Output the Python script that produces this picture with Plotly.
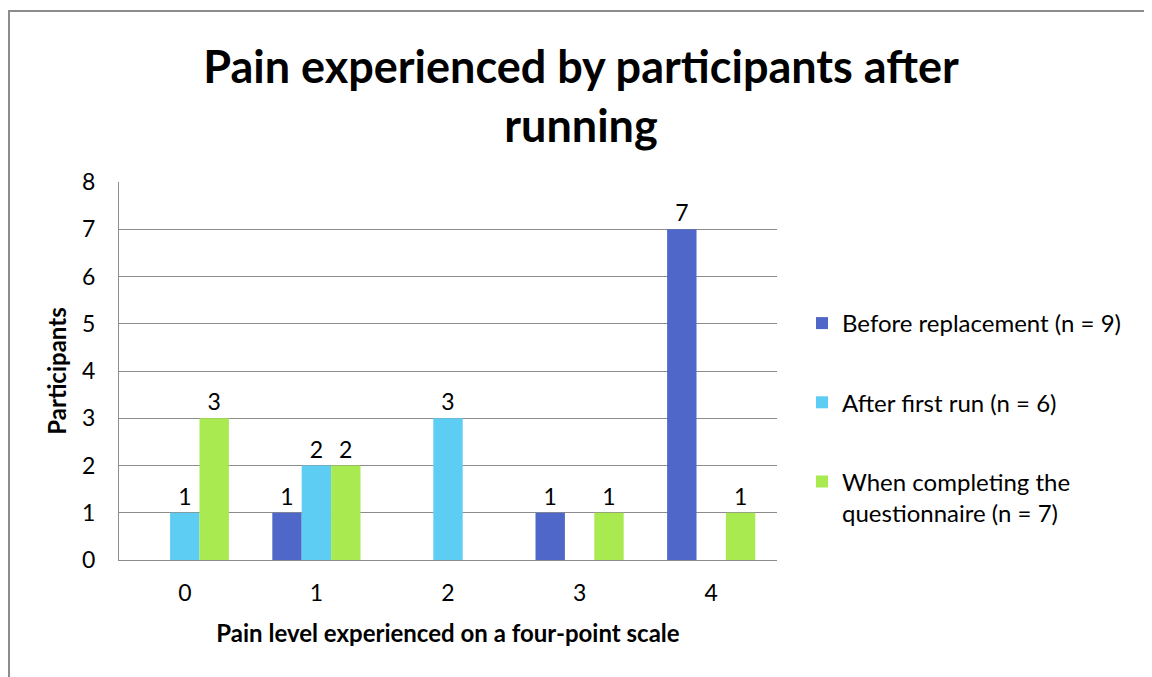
import plotly.graph_objects as go

categories = ["0", "1", "2", "3", "4"]
series_names = ["Before replacement (n = 9)", "After first run (n = 6)",
                "When completing the<br>questionnaire (n = 7)"]
before_replacement = [0, 1, 0, 1, 7]
after_first_run = [1, 2, 3, 0, 0]
when_completing = [3, 2, 0, 1, 1]
colors = ["#4F67C8", "#5ECDF3", "#A8EA50"]

FONT = "Lato"
fig = go.Figure()
for i, (name, vals) in enumerate(zip(series_names, [before_replacement, after_first_run, when_completing])):
    fig.add_trace(go.Bar(
        x=categories, y=vals, name=name, marker=dict(color=colors[i], line=dict(width=0)),
        text=[str(v) if v else "" for v in vals], textposition="outside",
        textfont=dict(size=23, color="black", family=FONT), cliponaxis=False,
        legendgroup=f"g{i}",
    ))

# the page body adds an 8px margin; the figure is sized to compensate
W, H = 1144, 669
l, r, t, b = 111, 375, 174, 117
pw, ph = W - l - r, H - t - b

fig.update_layout(
    width=W, height=H,
    margin=dict(l=l, r=r, t=t, b=b),
    paper_bgcolor="white", plot_bgcolor="white",
    font=dict(family=FONT, color="black"),
    barmode="group", bargap=0.33, bargroupgap=0,
    title=dict(text="<b>Pain experienced by participants after<br>running</b>",
               x=573 / W, xanchor="center", xref="container",
               y=1 - 75 / H, yanchor="top", yref="container",
               font=dict(size=45, family=FONT, color="black")),
    legend=dict(x=794 / W, xref="container", xanchor="left",
                y=1 - 293 / H, yref="container", yanchor="top",
                font=dict(size=24, family=FONT), tracegroupgap=45,
                valign="top", bgcolor="rgba(0,0,0,0)", itemwidth=30),
    showlegend=True,
)
fig.update_xaxes(
    showgrid=False, showline=True, linecolor="#8c8c8c", linewidth=1,
    ticks="", ticklabelstandoff=12,
    tickfont=dict(size=23, family=FONT),
    title=dict(text="<b>Pain level experienced on a four-point scale</b>",
               font=dict(size=24, family=FONT), standoff=20),
)
fig.update_yaxes(
    range=[0, 8], dtick=1, showgrid=True, gridcolor="#8c8c8c", gridwidth=1,
    showline=True, linecolor="#8c8c8c", linewidth=1, zeroline=False,
    ticks="", ticklabelstandoff=18,
    tickfont=dict(size=23, family=FONT),
    title=dict(text="<b>Participants</b>", font=dict(size=24, family=FONT), standoff=8),
)
# outer chart-area border
fig.add_shape(type="rect", xref="paper", yref="paper",
              x0=(1 - l) / pw, x1=(W + 20 - l) / pw,
              y0=-(b + 20) / ph, y1=(H - 3 - b) / ph,
              line=dict(color="#8c8c8c", width=2), fillcolor="rgba(0,0,0,0)", layer="below")

fig.write_html("out.html")
